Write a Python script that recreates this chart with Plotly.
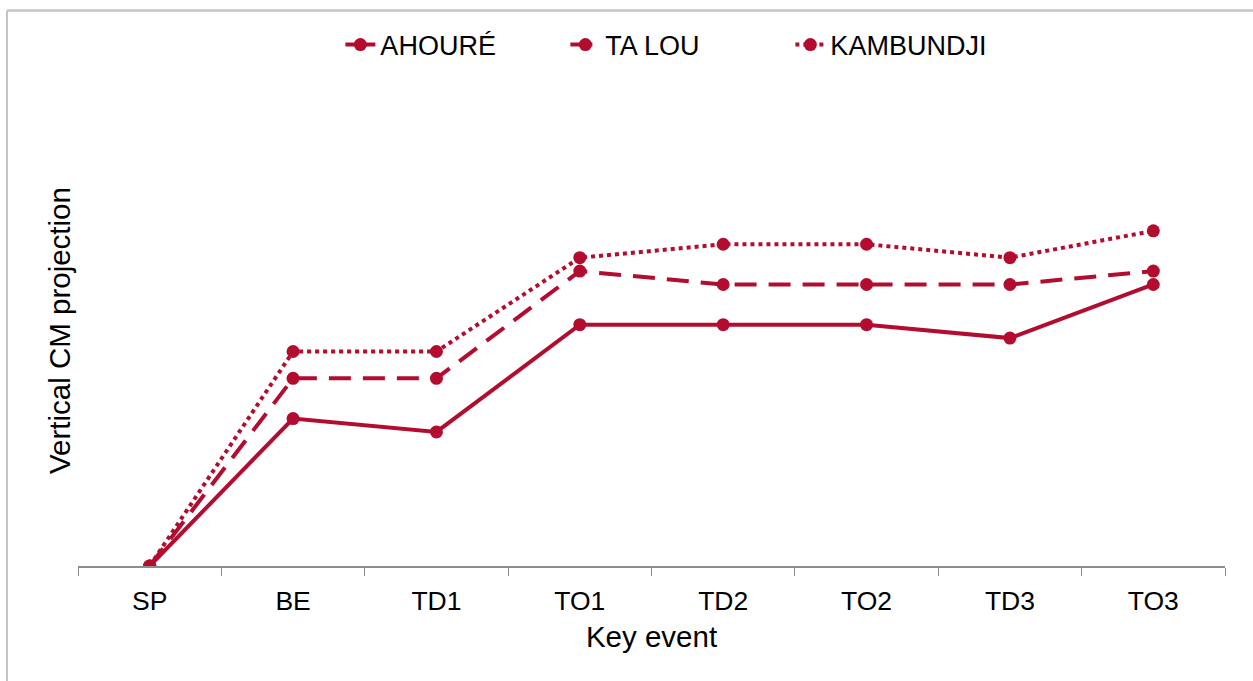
import plotly.graph_objects as go

# key events along the jump, vertical CM projection (arbitrary units)
events = ["SP", "BE", "TD1", "TO1", "TD2", "TO2", "TD3", "TO3"]
ahoure = [0, 11, 10, 18, 18, 18, 17, 21]
ta_lou = [0, 14, 14, 22, 21, 21, 21, 22]
kambundji = [0, 16, 16, 23, 24, 24, 23, 25]

_RED = "#B40C2E"
_FONT = "Liberation Sans, Arial, sans-serif"

fig = go.Figure()
for name, vals, dash in [
    ("AHOURÉ", ahoure, "solid"),
    ("TA LOU", ta_lou, "22px,12px"),
    ("KAMBUNDJI", kambundji, "dot"),
]:
    fig.add_trace(go.Scatter(
        x=events, y=vals, name=name,
        mode="lines+markers",
        line={"color": _RED, "width": 4, "dash": dash},
        marker={"color": _RED, "size": 13},
    ))

fig.update_layout(
    width=1253, height=681,
    paper_bgcolor="white", plot_bgcolor="white",
    font={"family": _FONT, "color": "#000000", "size": 26},
    margin={"l": 78, "r": 28, "t": 70, "b": 115, "autoexpand": False},
    showlegend=True,
    legend={"orientation": "h", "x": 0.541, "xanchor": "center", "xref": "container",
            "y": 1 - 45 / 681, "yanchor": "middle", "yref": "container",
            "bgcolor": "rgba(0,0,0,0)", "font": {"size": 27},
            "entrywidth": 180, "entrywidthmode": "pixels"},
    xaxis={
        "type": "category", "range": [-0.5, 7.5], "showgrid": False, "showline": True,
        "linecolor": "#8C8C8C", "linewidth": 1.5, "ticks": "outside", "tickson": "boundaries",
        "ticklen": 8, "tickcolor": "#8C8C8C", "tickfont": {"size": 26.5}, "ticklabelstandoff": 10,
        "automargin": False,
        "title": {"text": "Key event", "font": {"size": 29.5}, "standoff": 12},
    },
    yaxis={
        "range": [0, 37], "showgrid": False, "showline": False, "showticklabels": False,
        "zeroline": False, "ticks": "", "automargin": False,
    },
    annotations=[{
        "text": "Vertical CM projection", "textangle": -90, "showarrow": False,
        "xref": "paper", "yref": "paper", "x": (60 - 78) / 1147, "y": (566 - 331) / 496,
        "xanchor": "center", "yanchor": "middle", "font": {"size": 29.5},
    }],
    shapes=[
        # outer frame, drawn as separate edges (right and bottom lie off the page)
        {"type": "line", "xref": "paper", "yref": "paper",
         "x0": -0.0619, "x1": 1.04, "y0": 1.12, "y1": 1.12,
         "line": {"color": "#C4C4C4", "width": 2.5}},
        {"type": "line", "xref": "paper", "yref": "paper",
         "x0": -0.0619, "x1": -0.0619, "y0": -0.3, "y1": 1.12,
         "line": {"color": "#C4C4C4", "width": 2}},
    ],
)

fig.write_html("out.html", config={"displayModeBar": False},
               post_script="document.body.style.margin='0';")
